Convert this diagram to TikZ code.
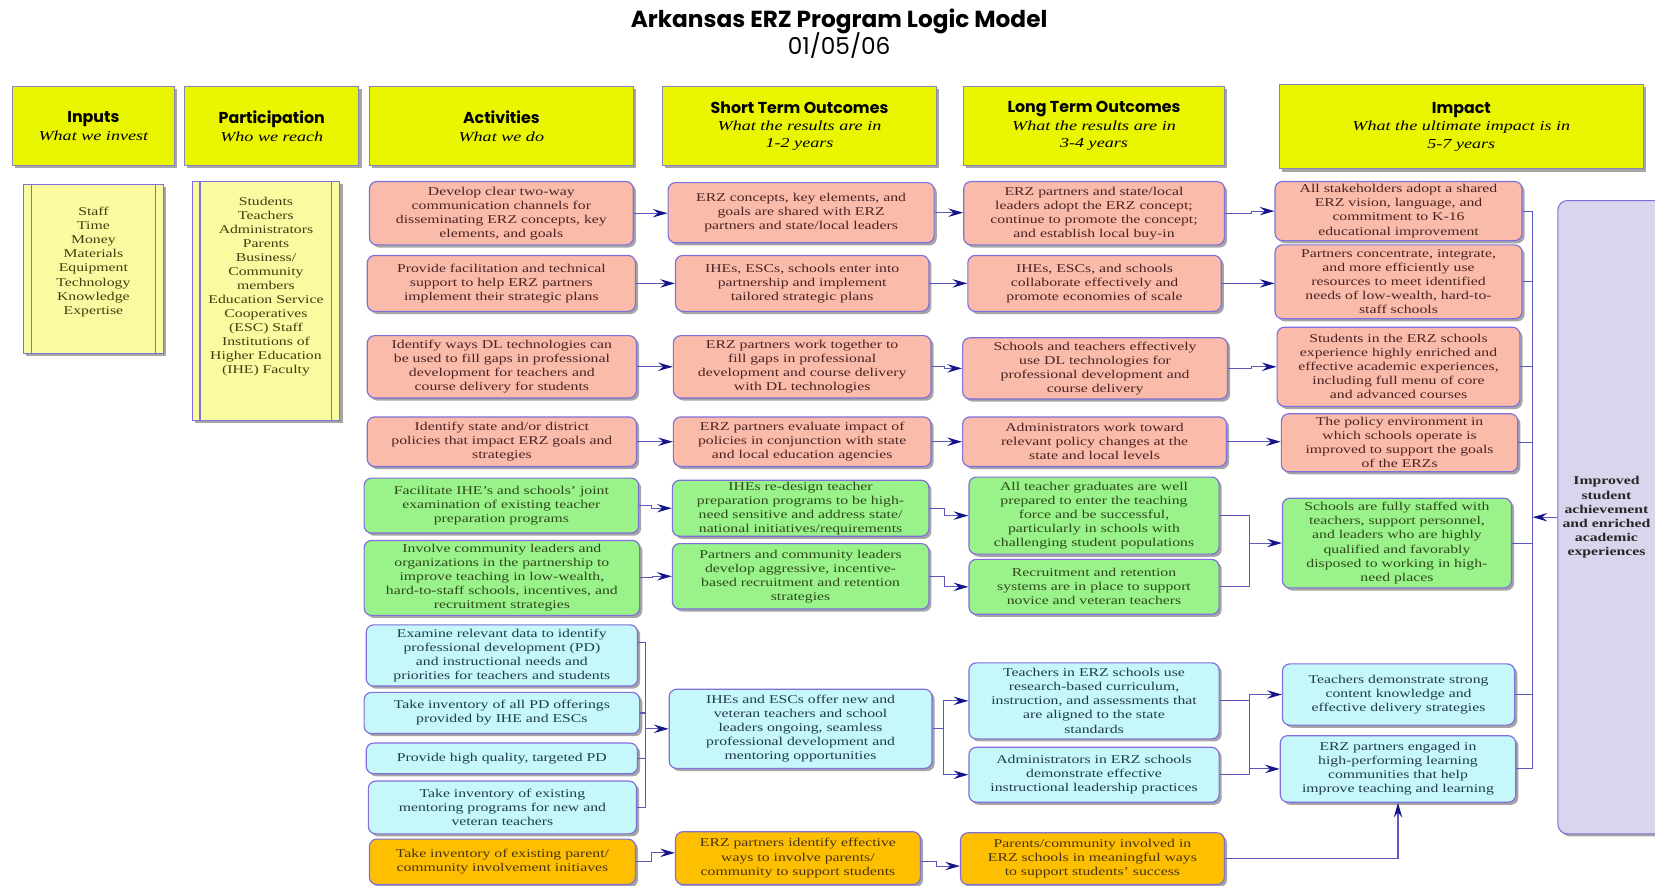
\documentclass[tikz,border=0pt]{standalone}
\usepackage{fontspec}
\setmainfont{Liberation Serif}[FakeStretch=1.32]
\newfontfamily\headfont{Poppins}
\usetikzlibrary{shadows,arrows.meta,calc}
\definecolor{pinkf}{HTML}{FBBBAB}
\definecolor{greenf}{HTML}{9AF28A}
\definecolor{cyanf}{HTML}{C6F7FA}
\definecolor{orangef}{HTML}{FDBF00}
\definecolor{yellowh}{HTML}{EAF500}
\definecolor{inf}{HTML}{FAFAA0}
\definecolor{finf}{HTML}{D9D5EC}
\definecolor{bordc}{HTML}{7F6FDC}
\definecolor{hdrb}{HTML}{8A84BE}
\definecolor{linec}{HTML}{5B58BE}
\definecolor{headc}{HTML}{14148A}
\definecolor{pinkt}{HTML}{4A2323}
\definecolor{greent}{HTML}{2E4A1A}
\definecolor{cyant}{HTML}{203C4C}
\definecolor{oranget}{HTML}{4A3410}
\definecolor{intc}{HTML}{3F3F10}
\newcommand\htfont{\headfont\bfseries\fontsize{15}{16.5}\selectfont}
\newcommand\hsub{\itshape\fontsize{13}{16.5}\selectfont}
\tikzset{
  shad/.style={drop shadow={shadow xshift=2.5pt,shadow yshift=-2.5pt,opacity=0.5,fill=black!70}},
  box/.style={rounded corners=7pt, draw=bordc, line width=1.1pt, align=center, inner sep=1pt, shad,
    font=\fontsize{11.3}{13.3}\selectfont},
  pinkbox/.style={box, fill=pinkf, text=pinkt},
  greenbox/.style={box, fill=greenf, text=greent},
  cyanbox/.style={box, fill=cyanf, text=cyant},
  orangebox/.style={box, fill=orangef, text=oranget},
  hdr/.style={draw=hdrb, fill=yellowh, line width=0.9pt, align=center, inner sep=1pt, shad,
    font=\fontsize{13}{16.5}\selectfont},
  inbox/.style={draw=bordc, fill=inf, line width=1pt, shad},
  finbox/.style={draw=bordc, fill=finf, line width=1pt, rounded corners=9pt, shad},
  inline/.style={draw=bordc, line width=1pt},
  conn/.style={draw=linec, line width=1pt},
  arr/.style={conn, -{Stealth[length=14pt,width=8pt,inset=5pt,color=headc]}},
}
\newcommand\bx[7]{\node[#1,minimum width=#5pt,minimum height=#6pt] (#2) at (#3,#4) {#7};}
\begin{document}
\begin{tikzpicture}[x=1pt,y=-1pt]
\useasboundingbox (0,0) rectangle (1568,839);
% title
\node[font=\headfont\bfseries\fontsize{22}{24}\selectfont] (title) at (795,20) {Arkansas ERZ Program Logic Model};
\node[font=\headfont\fontsize{22}{24}\selectfont] (date) at (795,43) {01/05/06};
% headers
\node[hdr,minimum width=153pt,minimum height=75pt] (H1) at (88.5,119.5)
  {{\htfont Inputs}\\{\hsub What we invest}};
\node[hdr,minimum width=165pt,minimum height=75pt] (H2) at (257.5,119.5)
  {{\htfont Participation}\\{\hsub Who we reach}};
\node[hdr,minimum width=250pt,minimum height=75pt] (H3) at (475,119.5)
  {{\htfont Activities}\\{\hsub What we do}};
\node[hdr,minimum width=259pt,minimum height=75pt] (H4) at (757.5,119.5)
  {{\htfont Short Term Outcomes}\\{\hsub What the results are in}\\{\hsub 1-2 years}};
\node[hdr,minimum width=247pt,minimum height=75pt] (H5) at (1036.5,119.5)
  {{\htfont Long Term Outcomes}\\{\hsub What the results are in}\\{\hsub 3-4 years}};
\node[hdr,minimum width=345pt,minimum height=80pt] (H6) at (1384.5,120)
  {{\htfont Impact}\\{\hsub What the ultimate impact is in}\\{\hsub 5-7 years}};
% inputs & participation
\node[inbox,minimum width=133pt,minimum height=160pt] (IN) at (88.5,255) {};
\draw[inline] ($(IN.north west)+(8,0)$) -- ($(IN.south west)+(8,0)$);
\draw[inline] ($(IN.north east)+(-8,0)$) -- ($(IN.south east)+(-8,0)$);
\node[anchor=north,align=center,text=intc,font=\fontsize{11.3}{13.3}\selectfont] (INt) at (88.5,193)
  {Staff\\Time\\Money\\Materials\\Equipment\\Technology\\Knowledge\\Expertise};
\node[inbox,minimum width=140pt,minimum height=226pt] (PA) at (252,285) {};
\draw[inline] ($(PA.north west)+(8,0)$) -- ($(PA.south west)+(8,0)$);
\draw[inline] ($(PA.north east)+(-8,0)$) -- ($(PA.south east)+(-8,0)$);
\node[anchor=north,align=center,text=intc,font=\fontsize{11.3}{13.3}\selectfont] (PAt) at (252,183)
  {Students\\Teachers\\Administrators\\Parents\\Business/\\Community\\members\\Education Service\\Cooperatives\\(ESC) Staff\\Institutions of\\Higher Education\\(IHE) Faculty};
% activities
\bx{pinkbox}{A1}{475}{202}{250}{60}{Develop clear two-way\\communication channels for\\disseminating ERZ concepts, key\\elements, and goals}
\bx{pinkbox}{A2}{475}{268.5}{254}{53}{Provide facilitation and technical\\support to help ERZ partners\\implement their strategic plans}
\bx{pinkbox}{A3}{475.5}{347.5}{255}{59}{Identify ways DL technologies can\\be used to fill gaps in professional\\development for teachers and\\course delivery for students}
\bx{pinkbox}{A4}{475.5}{418.5}{255}{47}{Identify state and/or district\\policies that impact ERZ goals and\\strategies}
\bx{greenbox}{A5}{475}{479}{260}{52}{Facilitate IHE's and schools' joint\\examination of existing teacher\\preparation programs}
\bx{greenbox}{A6}{475.5}{547.5}{261}{71}{Involve community leaders and\\organizations in the partnership to\\improve teaching in low-wealth,\\hard-to-staff schools, incentives, and\\recruitment strategies}
\bx{cyanbox}{A7}{475.5}{621}{257}{58}{Examine relevant data to identify\\professional development (PD)\\and instructional needs and\\priorities for teachers and students}
\bx{cyanbox}{A8}{475.5}{675.5}{261}{39}{Take inventory of all PD offerings\\provided by IHE and ESCs}
\bx{cyanbox}{A9}{475.5}{718.5}{257}{29}{Provide high quality, targeted PD}
\bx{cyanbox}{A10}{476}{765}{254}{50}{Take inventory of existing\\mentoring programs for new and\\veteran teachers}
\bx{orangebox}{A11}{476}{816.5}{252}{43}{Take inventory of existing parent/\\community involvement initiaves}
% short term
\bx{pinkbox}{S1}{759}{201.5}{252}{57}{ERZ concepts, key elements, and\\goals are shared with ERZ\\partners and state/local leaders}
\bx{pinkbox}{S2}{760}{268.5}{240}{53}{IHEs, ESCs, schools enter into\\partnership and implement\\tailored strategic plans}
\bx{pinkbox}{S3}{760}{347.5}{244}{59}{ERZ partners work together to\\fill gaps in professional\\development and course delivery\\with DL technologies}
\bx{pinkbox}{S4}{760}{418.5}{244}{47}{ERZ partners evaluate impact of\\policies in conjunction with state\\and local education agencies}
\bx{greenbox}{S5}{758.5}{481.5}{243}{53}{IHEs re-design teacher\\preparation programs to be high-\\need sensitive and address state/\\national initiatives/requirements}
\bx{greenbox}{S6}{758.5}{546}{243}{62}{Partners and community leaders\\develop aggressive, incentive-\\based recruitment and retention\\strategies}
\bx{cyanbox}{S7}{758.5}{690.5}{249}{75}{IHEs and ESCs offer new and\\veteran teachers and school\\leaders ongoing, seamless\\professional development and\\mentoring opportunities}
\bx{orangebox}{S8}{756}{813}{232}{50}{ERZ partners identify effective\\ways to involve parents/\\community to support students}
% long term
\bx{pinkbox}{L1}{1036.5}{202}{247}{60}{ERZ partners and state/local\\leaders adopt the ERZ concept;\\continue to promote the concept;\\and establish local buy-in}
\bx{pinkbox}{L2}{1037}{268.5}{240}{53}{IHEs, ESCs, and schools\\collaborate effectively and\\promote economies of scale}
\bx{pinkbox}{L3}{1037.5}{349}{251}{58}{Schools and teachers effectively\\use DL technologies for\\professional development and\\course delivery}
\bx{pinkbox}{L4}{1037}{418.5}{250}{47}{Administrators work toward\\relevant policy changes at the\\state and local levels}
\bx{greenbox}{L5}{1036.5}{488.5}{237}{73}{All teacher graduates are well\\prepared to enter the teaching\\force and be successful,\\particularly in schools with\\challenging student populations}
\bx{greenbox}{L6}{1036.5}{556}{237}{52}{Recruitment and retention\\systems are in place to support\\novice and veteran teachers}
\bx{cyanbox}{L7}{1036.5}{664}{237}{72}{Teachers in ERZ schools use\\research-based curriculum,\\instruction, and assessments that\\are aligned to the state\\standards}
\bx{cyanbox}{L8}{1036.5}{734}{237}{52}{Administrators in ERZ schools\\demonstrate effective\\instructional leadership practices}
\bx{orangebox}{L9}{1035}{813.5}{250}{49}{Parents/community involved in\\ERZ schools in meaningful ways\\to support students' success}
% impact
\bx{pinkbox}{I1}{1325}{200}{234}{56}{All stakeholders adopt a shared\\ERZ vision, language, and\\commitment to K-16\\educational improvement}
\bx{pinkbox}{I2}{1325}{267}{234}{70}{Partners concentrate, integrate,\\and more efficiently use\\resources to meet identified\\needs of low-wealth, hard-to-\\staff schools}
\bx{pinkbox}{I3}{1325}{347.5}{230}{75}{Students in the ERZ schools\\experience highly enriched and\\effective academic experiences,\\including full menu of core\\and advanced courses}
\bx{pinkbox}{I4}{1326}{419.5}{224}{55}{The policy environment in\\which schools operate is\\improved to support the goals\\of the ERZs}
\bx{greenbox}{I5}{1323.5}{514.5}{217}{85}{Schools are fully staffed with\\teachers, support personnel,\\and leaders who are highly\\qualified and favorably\\disposed to working in high-\\need places}
\bx{cyanbox}{I6}{1325}{658}{220}{58}{Teachers demonstrate strong\\content knowledge and\\effective delivery strategies}
\bx{cyanbox}{I7}{1324.5}{728.5}{223}{63}{ERZ partners engaged in\\high-performing learning\\communities that help\\improve teaching and learning}
% final
\node[finbox,minimum width=130pt,minimum height=600pt] (fin) at (1541,490) {};
\node[align=center,font=\bfseries\fontsize{11.3}{13.3}\selectfont,text=black!85] (fint) at (1522,490)
  {Improved\\student\\achievement\\and enriched\\academic\\experiences};
% connectors: pink rows
\draw[arr] (A1.east) -- (A1.east -| S1.west);
\draw[arr] (A2.east) -- (A2.east -| S2.west);
\draw[arr] (A3.east) -- (A3.east -| S3.west);
\draw[arr] (A4.east) -- (A4.east -| S4.west);
\draw[arr] (S1.east) -- (S1.east -| L1.west);
\draw[arr] (S2.east) -- (S2.east -| L2.west);
\draw[arr] (S3.east) -- ++(12,0) |- (L3.west);
\draw[arr] (S4.east) -- (S4.east -| L4.west);
\draw[arr] (L1.east) -- ++(25,0) |- (I1.west);
\draw[arr] (L2.east) -- (L2.east -| I2.west);
\draw[arr] (L3.east) -- ++(22,0) |- (I3.west);
\draw[arr] (L4.east) -- (L4.east -| I4.west);
% green
\draw[arr] (A5.east) -- ++(12,0) |- (S5.west);
\draw[arr] (A6.east) -- ++(12,0) |- (S6.west);
\draw[arr] (S5.east) -- ++(14,0) |- (L5.west);
\draw[arr] (S6.east) -- ++(14,0) |- (L6.west);
\coordinate (jg) at ($(L5.east)+(28,0)$);
\draw[conn] (L5.east) -- (jg) -- (jg |- L6.east) -- (L6.east);
\draw[arr] (jg |- I5.west) -- (I5.west);
% cyan
\coordinate (cb) at (612,0);
\coordinate (a7s) at ($(A7.east)+(0,-12)$);
\draw[conn] (a7s) -- (a7s -| cb) -- (A10.east -| cb) -- (A10.east);
\draw[conn] (A8.east) -- (A8.east -| cb);
\draw[conn] (A9.east) -- (A9.east -| cb);
\draw[arr] (S7.west -| cb) -- (S7.west);
\coordinate (k) at ($(S7.east)+(10,0)$);
\draw[conn] (S7.east) -- (k);
\draw[arr] (k) |- (L7.west);
\draw[arr] (k) |- (L8.west);
\coordinate (m) at ($(L7.east)+(28,0)$);
\draw[conn] (L7.east) -- (m |- L7.east);
\draw[conn] (L8.east) -- (m |- L8.east);
\draw[conn] (m |- I6.west) -- (m |- L8.east);
\draw[arr] (m |- I6.west) -- (I6.west);
\draw[arr] (m |- I7.west) -- (I7.west);
% orange
\draw[arr] (A11.east) -- ++(15,0) |- ($(S8.west)+(0,-5)$);
\draw[arr] ($(S8.east)+(0,3)$) -- ++(15,0) |- ($(L9.west)+(0,7)$);
\draw[arr] (L9.east) -| (I7.south);
% impact bus
\coordinate (bus) at (1452,0);
\foreach \n in {I1,I2,I3,I4,I5,I6,I7} {\draw[conn] (\n.east) -- (\n.east -| bus);}
\draw[conn] (I1.east -| bus) -- (I7.east -| bus);
\draw[arr] (fin.west) -- (fin.west -| bus);
\end{tikzpicture}
\end{document}
